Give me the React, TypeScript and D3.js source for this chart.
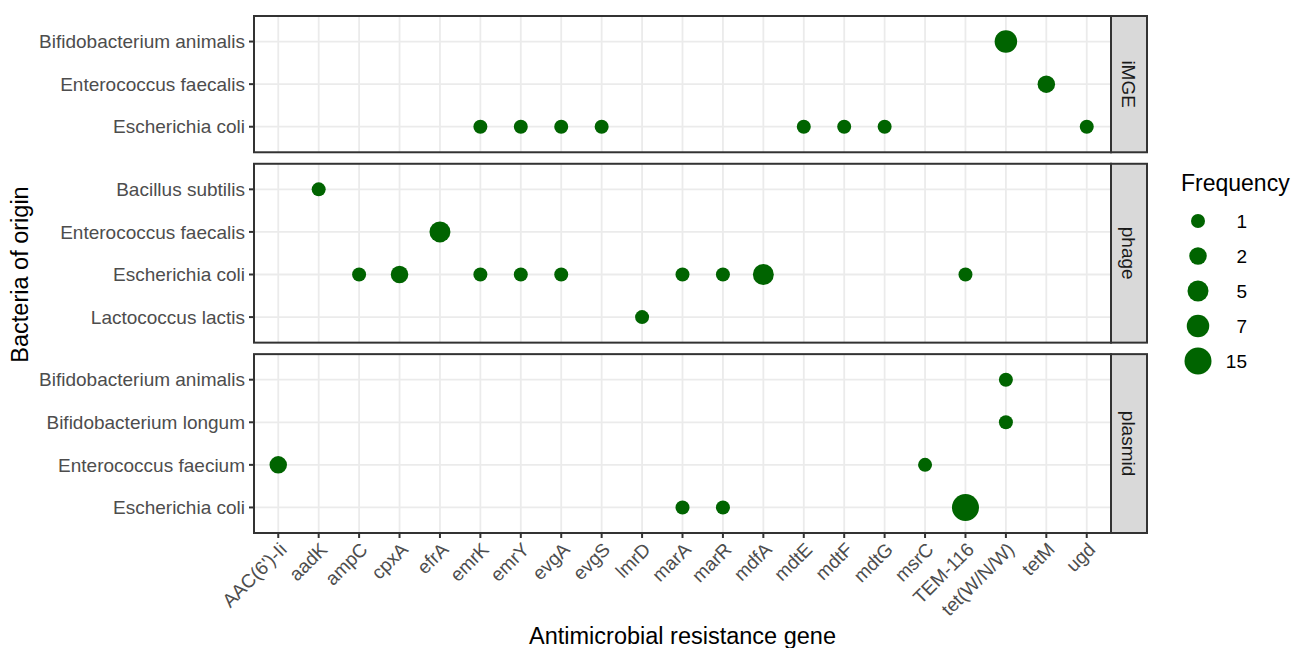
import * as d3 from "d3";
import { useEffect, useRef } from "react";

// gene categories on the x axis
const genes = [
  "AAC(6')-Ii", "aadK", "ampC", "cpxA", "efrA", "emrK", "emrY", "evgA", "evgS",
  "lmrD", "marA", "marR", "mdfA", "mdtE", "mdtF", "mdtG", "msrC", "TEM-116",
  "tet(W/N/W)", "tetM", "ugd",
];

// facet panels, rows listed top to bottom
const panels = ["iMGE", "phage", "plasmid"];
const imgeBacteria = ["Bifidobacterium animalis", "Enterococcus faecalis", "Escherichia coli"];
const phageBacteria = ["Bacillus subtilis", "Enterococcus faecalis", "Escherichia coli", "Lactococcus lactis"];
const plasmidBacteria = ["Bifidobacterium animalis", "Bifidobacterium longum", "Enterococcus faecium", "Escherichia coli"];

// [bacteria, gene, frequency]
const imgePoints: [string, string, number][] = [
  ["Bifidobacterium animalis", "tet(W/N/W)", 7],
  ["Enterococcus faecalis", "tetM", 2],
  ["Escherichia coli", "emrK", 1],
  ["Escherichia coli", "emrY", 1],
  ["Escherichia coli", "evgA", 1],
  ["Escherichia coli", "evgS", 1],
  ["Escherichia coli", "mdtE", 1],
  ["Escherichia coli", "mdtF", 1],
  ["Escherichia coli", "mdtG", 1],
  ["Escherichia coli", "ugd", 1],
];
const phagePoints: [string, string, number][] = [
  ["Bacillus subtilis", "aadK", 1],
  ["Enterococcus faecalis", "efrA", 5],
  ["Escherichia coli", "ampC", 1],
  ["Escherichia coli", "cpxA", 2],
  ["Escherichia coli", "emrK", 1],
  ["Escherichia coli", "emrY", 1],
  ["Escherichia coli", "evgA", 1],
  ["Escherichia coli", "marA", 1],
  ["Escherichia coli", "marR", 1],
  ["Escherichia coli", "mdfA", 5],
  ["Escherichia coli", "TEM-116", 1],
  ["Lactococcus lactis", "lmrD", 1],
];
const plasmidPoints: [string, string, number][] = [
  ["Bifidobacterium animalis", "tet(W/N/W)", 1],
  ["Bifidobacterium longum", "tet(W/N/W)", 1],
  ["Enterococcus faecium", "AAC(6')-Ii", 2],
  ["Enterococcus faecium", "msrC", 1],
  ["Escherichia coli", "marA", 1],
  ["Escherichia coli", "marR", 1],
  ["Escherichia coli", "TEM-116", 15],
];

const legendBreaks = [1, 2, 5, 7, 15];

export default function App() {
  const ref = useRef<SVGSVGElement>(null);

  useEffect(() => {
    const svg = d3.select(ref.current);
    svg.selectAll("*").remove();

    const font = "'Liberation Sans', Arial, Helvetica, sans-serif";
    const left = 254, right = 1111, top = 16, bottom = 533, gap = 11.5;
    const stripW = 36;
    const green = "#006400";

    const rows = [imgeBacteria, phageBacteria, plasmidBacteria];
    const pts = [imgePoints, phagePoints, plasmidPoints];

    const x = d3.scalePoint<string>().domain(genes).range([left, right]).padding(0.6);

    // ggplot area-style size scale
    const t = d3.scaleLinear().domain([1, 15]).range([0, 1]);
    const rs = d3.scaleLinear().domain([0, 1]).range([7, 13.5]);
    const radius = (v: number) => rs(Math.sqrt(t(v)));

    // free space: panel heights proportional to number of rows
    const units = rows.map((r) => r.length - 1 + 1.2);
    const unit = (bottom - top - gap * (rows.length - 1)) / d3.sum(units);

    let y0 = top;
    panels.forEach((name, i) => {
      const h = units[i] * unit;
      const y = d3.scalePoint<string>().domain(rows[i]).range([y0, y0 + h]).padding(0.6);
      const g = svg.append("g");

      g.append("rect").attr("x", left).attr("y", y0).attr("width", right - left).attr("height", h).attr("fill", "white");

      g.selectAll(".vg").data(genes).enter().append("line")
        .attr("x1", (d) => x(d)!).attr("x2", (d) => x(d)!)
        .attr("y1", y0).attr("y2", y0 + h)
        .attr("stroke", "#ebebeb").attr("stroke-width", 1.8);
      g.selectAll(".hg").data(rows[i]).enter().append("line")
        .attr("x1", left).attr("x2", right)
        .attr("y1", (d) => y(d)!).attr("y2", (d) => y(d)!)
        .attr("stroke", "#ebebeb").attr("stroke-width", 1.8);

      g.selectAll("circle").data(pts[i]).enter().append("circle")
        .attr("cx", (d) => x(d[1])!)
        .attr("cy", (d) => y(d[0])!)
        .attr("r", (d) => radius(d[2]))
        .attr("fill", green);

      g.append("rect").attr("x", left).attr("y", y0).attr("width", right - left).attr("height", h)
        .attr("fill", "none").attr("stroke", "#333333").attr("stroke-width", 2);

      // y axis
      const ya = g.append("g");
      rows[i].forEach((b) => {
        ya.append("line").attr("x1", left - 5).attr("x2", left).attr("y1", y(b)!).attr("y2", y(b)!)
          .attr("stroke", "#333333").attr("stroke-width", 2);
        ya.append("text").attr("x", left - 9).attr("y", y(b)!).attr("dy", "0.35em")
          .attr("text-anchor", "end").attr("font-family", font).attr("font-size", 19)
          .attr("fill", "#4d4d4d").text(b);
      });

      // strip
      g.append("rect").attr("x", right).attr("y", y0).attr("width", stripW).attr("height", h)
        .attr("fill", "#d9d9d9").attr("stroke", "#333333").attr("stroke-width", 2);
      g.append("text")
        .attr("transform", `translate(${right + stripW / 2},${y0 + h / 2}) rotate(90)`)
        .attr("text-anchor", "middle").attr("dy", "0.35em")
        .attr("font-family", font).attr("font-size", 19).attr("fill", "#1a1a1a")
        .text(name);

      y0 += h + gap;
    });

    // x axis on bottom panel
    const xa = svg.append("g");
    genes.forEach((gname) => {
      xa.append("line").attr("x1", x(gname)!).attr("x2", x(gname)!).attr("y1", bottom).attr("y2", bottom + 5)
        .attr("stroke", "#333333").attr("stroke-width", 2);
      xa.append("text")
        .attr("transform", `translate(${x(gname)},${bottom + 8}) rotate(-45)`)
        .attr("text-anchor", "end").attr("dy", "0.72em")
        .attr("font-family", font).attr("font-size", 19).attr("fill", "#4d4d4d")
        .text(gname);
    });

    // axis titles
    svg.append("text").attr("x", (left + right) / 2).attr("y", 644).attr("text-anchor", "middle")
      .attr("font-family", font).attr("font-size", 23.5).attr("fill", "black")
      .text("Antimicrobial resistance gene");
    svg.append("text").attr("transform", `translate(28,${(top + bottom) / 2}) rotate(-90)`)
      .attr("text-anchor", "middle").attr("font-family", font).attr("font-size", 23.5).attr("fill", "black")
      .text("Bacteria of origin");

    // legend
    const lg = svg.append("g");
    lg.append("text").attr("x", 1181).attr("y", 191).attr("font-family", font).attr("font-size", 23)
      .attr("fill", "black").text("Frequency");
    legendBreaks.forEach((v, k) => {
      const cy = 221 + k * 35;
      lg.append("circle").attr("cx", 1198).attr("cy", cy).attr("r", radius(v)).attr("fill", green);
      lg.append("text").attr("x", 1247).attr("y", cy).attr("dy", "0.35em").attr("text-anchor", "end")
        .attr("font-family", font).attr("font-size", 19).attr("fill", "black").text(v);
    });
  }, []);

  return (
    <svg ref={ref} width={1301} height={648} style={{ position: "absolute", left: 0, top: 0, background: "white" }} />
  );
}
